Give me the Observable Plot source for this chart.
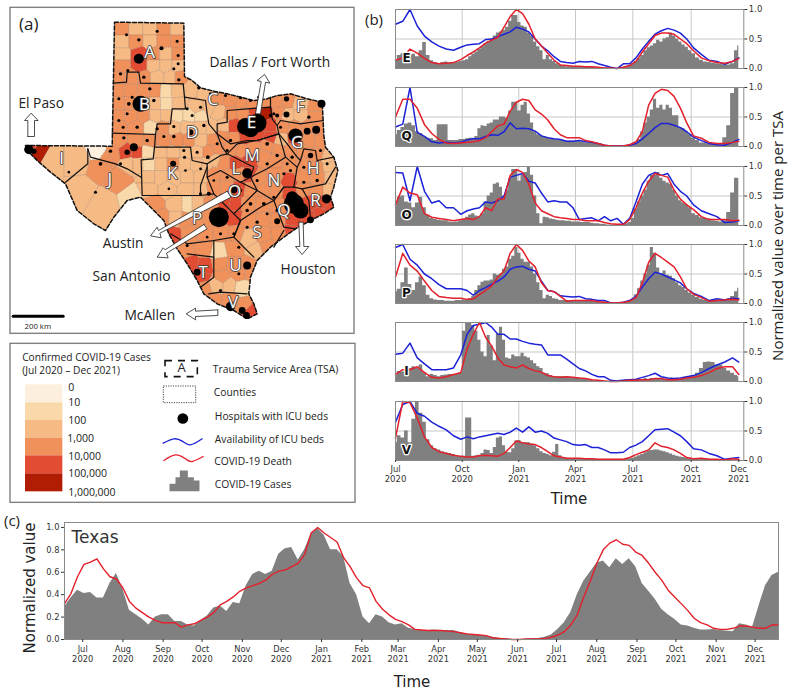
<!DOCTYPE html>
<html><head><meta charset="utf-8">
<script src="https://cdn.jsdelivr.net/npm/d3@7"></script>
<script src="https://cdn.jsdelivr.net/npm/@observablehq/plot@0.6"></script>
<style>
html,body{margin:0;padding:0;background:#fff}
#page{position:relative;width:790px;height:690px;overflow:hidden}
#page svg{position:absolute;background:transparent;overflow:visible}
.t{position:absolute;white-space:nowrap;color:#222;transform:translate(-50%,-50%)}
.r{transform:translate(-50%,-50%) rotate(-90deg)}
.os{font-family:"Open Sans"}
.dj{font-family:"DejaVu Sans"}
</style></head><body><div id="page"></div>
<script>
// ---------- colour classes of the choropleth ----------
const classLabels=["0","10","100","1,000","10,000","100,000","1,000,000"];
const classColors=["#fcefdd","#f9d9a9","#f6ba85","#f0905b","#e24c33","#b01d03"];
// ---------- map (map grid units: 150 units = 200 km) ----------
const texasOutline=[[342,65],[550,68],[552,228],[575,240],[600,262],[640,272],[680,280],[720,290],[760,300],[800,295],[830,285],[870,280],[920,295],[965,305],[968,360],[970,405],[975,440],[1000,470],[1012,510],[1000,560],[990,590],[1000,620],[970,640],[930,660],[885,685],[850,710],[810,740],[770,780],[750,830],[745,880],[760,910],[770,940],[740,955],[700,930],[650,910],[610,880],[590,840],[560,790],[530,745],[505,700],[490,660],[460,630],[420,590],[380,600],[340,650],[315,690],[280,670],[230,630],[195,550],[150,515],[110,480],[85,455],[75,435],[330,437],[335,437],[342,65]];
// county cell centres: [east, south, colour class]
const countyCells=[
[364,85,3],[406,85,2],[448,85,2],[490,85,3],[530,85,2],
[364,122,2],[406,122,3],[448,122,2],[490,122,3],[530,122,3],
[364,162,2],[418,162,4],[460,162,3],[495,162,2],[532,162,3],
[364,195,3],[418,195,4],[460,195,2],[495,195,2],[532,195,2],
[352,230,3],[392,230,3],[430,230,3],[470,230,2],[510,230,2],[538,230,3],
[352,270,3],[392,270,3],[430,270,3],[465,270,3],[495,272,1],[530,272,2],
[352,310,3],[392,310,3],[430,310,3],[465,310,2],[495,310,1],[535,310,2],
[352,345,3],[392,345,3],[430,345,3],[465,345,2],[495,345,2],[530,345,1],[565,345,1],[600,345,1],
[352,380,3],[410,380,3],[450,380,1],[490,380,3],[520,380,2],[560,380,2],[600,380,2],[635,380,2],
[352,420,3],[410,420,3],[450,420,3],[490,420,3],[530,420,3],[565,420,3],[600,420,2],[640,420,3],
[295,452,0],[335,460,3],[378,455,4],[408,455,4],[442,455,1],[480,455,2],[520,455,2],[555,455,2],[590,455,2],[625,455,3],
[385,490,2],[410,490,2],[445,490,1],[480,490,2],[520,490,3],[550,490,2],[590,490,2],[620,490,2],
[445,530,2],[480,530,2],[520,530,2],[560,530,2],[600,530,2],
[445,565,2],[500,565,2],[560,565,2],[600,565,2],
[460,610,3],[530,610,2],[560,610,1],[480,655,3],[530,655,2],
[112,458,5],[88,440,4],[150,480,2],[232,480,2],
[240,570,2],[310,610,2],[395,590,1],[300,500,3],[355,535,3],[320,470,3],
[575,265,2],[610,275,2],[650,295,3],[690,300,3],[725,305,3],[755,310,3],[790,305,3],[830,305,3],[860,300,3],[900,310,2],[945,320,3],
[590,320,2],[625,320,2],[655,335,2],[690,340,3],[730,340,3],[762,335,4],[798,338,5],[835,335,3],[860,345,2],[900,345,2],[945,345,3],
[670,375,2],[700,375,4],[735,375,4],[775,370,4],[810,375,4],[845,375,3],[885,380,3],[920,380,3],[955,385,3],
[665,410,3],[700,415,3],[735,410,4],[770,405,4],[810,410,4],[840,420,2],[885,415,4],[925,420,3],[960,420,3],
[650,440,3],[690,445,3],[725,450,3],[760,440,3],[800,435,3],[835,445,3],[870,450,3],[910,450,3],[945,465,3],[985,475,2],
[640,480,2],[670,490,3],[705,490,4],[745,480,4],[790,470,3],[825,480,3],[870,490,3],[905,490,3],[945,500,3],[990,495,2],
[640,520,3],[680,525,3],[715,520,3],[745,520,4],[775,535,3],[825,525,3],[865,545,4],[910,530,3],[950,530,3],[995,530,2],
[640,560,3],[680,560,3],[715,565,4],[750,570,3],[790,565,3],[830,570,3],[865,575,4],[910,565,3],[950,570,3],[985,570,2],
[590,610,2],[630,610,3],[675,605,4],[700,610,4],[745,610,3],[785,615,3],[830,615,3],[880,610,4],[925,610,4],[965,605,4],[990,625,4],
[550,660,3],[590,655,3],[625,650,3],[655,650,4],[700,650,4],[745,655,3],[790,655,3],[830,660,3],[880,660,4],[925,650,4],[960,640,4],
[520,705,4],[565,700,3],[615,700,3],[660,695,3],[705,700,3],[745,715,2],[790,705,3],[835,700,3],[875,690,4],
[555,750,3],[610,745,3],[655,755,1],[700,745,3],[765,750,2],[800,740,3],
[570,790,4],[610,800,4],[660,790,3],[700,795,3],[745,795,3],
[600,825,4],[665,830,3],[715,820,3],[750,815,3],
[610,865,3],[650,855,2],[685,855,2],[725,862,1],
[640,900,3],[690,900,3],[735,915,3],[750,930,4]
];
// TSA borders
const tsaBorders=[
[[338,248],[378,245],[380,215],[415,215],[420,248],[548,250]],
[[548,250],[552,290],[555,325],[515,325],[510,370],[470,370],[465,402],[335,398]],
[[465,402],[462,440],[458,475],[422,478],[425,585],[600,585],[600,555],[620,500]],
[[262,445],[262,490],[195,545]],
[[262,445],[270,470],[345,490],[380,505],[422,530]],
[[462,440],[570,440],[575,480],[620,490],[660,465],[680,460]],
[[552,290],[615,300],[620,340],[625,370],[650,400],[665,440],[680,460]],
[[680,330],[740,325],[810,320],[815,355],[830,375],[835,400],[770,420],[740,420],[690,430],[650,400],[650,370],[680,365],[680,330]],
[[810,290],[810,320]],[[830,375],[840,360],[900,370],[968,360]],
[[835,400],[860,430],[890,470],[900,480],[910,445],[945,450],[950,480],[1000,470]],
[[900,480],[890,500],[880,560],[905,565],[975,550],[1005,500]],
[[680,460],[710,430],[770,420],[835,400],[855,470],[890,500]],
[[620,490],[620,530],[660,510],[720,545],[750,530],[760,500],[680,460]],
[[750,530],[800,505],[855,470]],[[880,560],[850,560],[820,600],[770,570],[750,530]],
[[720,545],[770,570],[740,600],[700,640],[660,600],[640,580],[620,530]],
[[600,585],[640,580]],[[700,640],[720,660],[700,710],[640,720],[560,730],[510,700]],
[[905,565],[925,600],[930,655]],[[850,560],[820,600],[850,680],[885,685]],
[[720,660],[780,620],[820,600]],[[850,690],[820,740]],[[720,660],[700,710],[760,770]],
[[560,760],[640,770],[640,830],[600,860]],[[640,720],[640,770]],[[625,880],[660,875],[740,880]]
];
// hospitals: [east, south, estimated ICU beds]
const hospitals=[
[415,175,174],[420,310,444],[735,378,500],[770,368,600],[750,385,500],[655,650,694],[880,610,694],[900,630,444],[875,590,250],[885,405,350],[85,447,150],[100,452,50],[963,310,110],[740,518,170],[700,568,80],[740,795,110],[690,918,150],[725,930,80],[738,945,80],[590,815,80],[978,595,150],[930,658,80],[920,392,80],[947,388,110],[400,440,110],[380,455,50],[518,490,62],[570,395,62],[830,662,62],[858,295,50],[858,342,62],[930,465,50],[830,345,28],
[378,103,16],[470,92,16],[415,118,20],[483,143,28],[530,122,16],[533,165,16],[533,190,16],[520,205,16],[360,220,20],[382,210,16],[430,230,20],[535,238,20],
[448,265,20],[355,295,16],[385,310,24],[395,290,16],[460,300,20],[380,340,16],[355,360,16],[368,380,16],[410,380,20],[470,385,20],[520,378,16],
[370,412,20],[440,420,20],[520,408,20],[490,408,16],[575,345,16],[610,375,20],[560,325,16],[600,320,16],[595,262,20],[630,280,20],[675,285,16],[720,292,16],[750,300,16],[622,470,24],
[550,450,16],[552,470,16],[505,565,12],[555,510,12],[600,505,12],[590,455,16],[300,490,24],[205,515,12],[285,575,16],[330,452,20],[360,490,16],
[650,430,16],[680,450,16],[690,420,20],[800,430,24],[830,465,20],[860,490,16],[910,500,16],[950,540,20],[910,545,16],[870,510,16],[850,520,16],[800,490,20],[770,540,16],[720,570,20],[750,610,24],[790,610,24],[800,640,16],[770,665,20],[740,680,16],[700,700,16],[660,700,16],[620,710,12],[560,735,16],[715,740,16],[715,820,16],[660,870,16],[740,630,20],[820,590,16],[830,630,20],[980,490,16],[960,450,16],[875,470,20],[810,345,20],[775,290,20],[840,380,16],[820,340,16],[925,350,20],[640,540,12],[680,530,16],[625,580,28],[640,600,16],[600,580,16]
];
const tsaLetters=[["A",447,155],["B",432,313],["C",637,296],["D",575,395],["E",753,366],["F",900,318],["G",890,425],["H",938,505],["I",183,473],["J",328,538],["K",515,518],["L",706,503],["M",755,465],["N",820,540],["O",702,572],["P",590,655],["Q",850,630],["R",945,600],["S",770,697],["T",608,815],["U",705,795],["V",698,905]];
const cityLabels=[["Dallas / Fort Worth",808,187],["El Paso",122,310],["Austin",368,728],["San Antonio",393,828],["Houston",923,808],["McAllen",448,945]];
const cityArrows=[
[[82,408],[102,408],[102,360],[113,360],[92,338],[72,360],[82,360]],
[[765,340],[780,340],[795,245],[808,248],[792,222],[770,240],[782,243]],
[[680,572],[692,590],[478,698],[482,712],[450,706],[470,680],[474,690]],
[[610,672],[620,685],[498,758],[503,772],[470,770],[488,742],[494,748]],
[[895,665],[908,665],[910,738],[925,738],[905,762],[885,738],[898,738]],
[[652,928],[652,945],[585,948],[585,958],[557,940],[585,923],[585,932]]
];
const scaleBar=[[38,947],[188,947]];
// ---------- legend ----------
const swatchEdges=[163,217,270,323,376,430,484];
const legendTicks=[170,217,270,323,377,430,485];
const legendItems=[["Trauma Service Area (TSA)",637,118],["Counties",640,187],["Hospitals with ICU beds",643,260],["Availability of ICU beds",643,328],["COVID-19 Death",641,395],["COVID-19 Cases",643,464]];
const legendBlue=[[488,338],[520,325],[545,332],[570,343],[605,325]];
const legendRed=[[490,390],[525,373],[555,385],[575,393],[608,378]];
const legendCases=[[507,482],[507,460],[525,460],[525,440],[538,440],[538,420],[562,420],[562,440],[580,440],[580,450],[597,450],[597,482]];

// ---------- panels (b): every 10 days for lines, every 5 days for cases; % of each series' peak ----------
const eBlue=[75,80,100,72,55,45,38,33,31,36, 40,41,42,49,50,54,58,62,70,67, 62,50,38,30,20,12,10,9,12,11, 12,8,5,2,0,8,8,18,33,46, 58,64,68,65,60,50,35,24,14,12, 7,12,18];
const eRed=[14,18,33,26,17,10,8,9,10,15, 22,28,35,43,48,53,70,88,100,93, 75,50,38,26,14,6,5,4,4,3, 3,2,1,1,0,2,5,12,28,42, 56,60,60,58,50,42,30,18,13,10, 9,12,17];
const eCases=[13,22,25,26,22,24,20,30,44,22, 13,10,8,10,11,9,9,10,12,13, 15,20,24,28,32,37,42,46,50,55, 60,62,65,70,80,90,90,78,72,70, 60,55,45,37,30,15,22,15,12,8, 6,4,3,3,3,3,3,2,2,2, 2,2,1,1,1,1,0,0,0,1, 2,3,5,8,12,17,22,30,35,38, 42,48,45,50,52,60,55,50,45,40, 36,30,25,18,14,11,10,9,8,7, 6,6,8,30,38];
const qBlue=[33,38,100,24,17,8,6,7,6,7, 11,13,13,17,20,19,25,40,30,31, 30,26,18,15,13,12,9,9,10,8, 7,5,2,1,1,1,2,5,13,22, 32,39,39,36,32,25,16,10,5,3, 2,7,12];
const qRed=[50,80,80,65,37,22,12,6,5,6, 7,8,10,15,25,35,38,60,75,80, 78,62,55,45,30,20,15,15,15,10, 8,5,2,1,1,1,3,8,25,70, 90,97,95,85,65,40,18,14,7,5, 5,7,9];
const qCases=[20,27,32,38,40,35,25,22,17,14, 13,10,37,37,37,10,10,10,12,12, 13,14,14,17,30,35,34,38,40,45, 45,50,50,48,60,75,75,60,70,75, 55,40,25,20,18,17,15,12,12,11, 10,10,9,9,9,8,8,7,6,6, 5,5,4,3,2,1,1,1,1,1, 1,2,3,4,6,12,25,40,50,62, 80,65,70,62,70,65,52,52,32,30, 25,20,14,10,6,6,4,4,3,3, 15,35,90,100,100];
const oBlue=[90,89,42,100,58,38,42,30,30,19, 25,28,30,40,38,42,50,82,85,88, 75,72,55,40,42,40,40,30,10,12, 13,8,15,8,12,2,12,40,70,85, 90,85,88,70,58,50,35,25,20,15, 5,6,8];
const oRed=[35,65,55,52,20,14,12,10,8,10, 12,10,15,30,25,45,45,85,95,90, 70,38,25,20,15,13,12,10,10,8, 8,8,5,3,2,2,10,30,55,75, 88,85,82,60,45,35,27,15,10,10, 10,8,9];
const oCases=[35,48,50,40,38,30,38,48,30,18, 12,10,9,8,8,6,5,6,8,10, 14,18,20,16,15,20,40,50,55,70, 72,65,50,60,80,95,95,75,85,90, 100,85,50,20,3,14,13,11,10,9, 8,8,7,7,6,6,6,5,5,5, 4,3,3,2,2,1,1,1,1,2, 2,3,5,12,28,40,50,60,75,85, 85,90,80,75,72,70,60,50,42,38, 35,30,20,17,13,12,11,8,7,6, 8,22,55,80,80];
const pBlue=[95,100,75,65,50,42,32,25,25,25, 22,14,22,27,33,38,45,58,62,63, 58,55,38,22,20,13,12,11,12,8, 7,5,5,1,1,2,5,12,28,42, 53,50,45,40,35,25,17,12,5,8, 6,9,8];
const pRed=[45,85,65,55,38,22,12,10,9,9, 7,8,15,22,30,45,55,85,100,90, 72,62,35,22,20,12,4,5,5,5, 5,3,2,1,1,2,4,10,35,70, 85,78,70,62,45,25,16,10,4,5, 6,7,6];
const pCases=[20,24,35,60,32,22,35,45,30,14, 8,6,5,5,4,4,4,5,5,6, 6,8,12,22,30,36,38,38,40,50, 48,50,58,62,75,80,95,85,75,70, 70,62,50,35,22,8,14,12,8,7, 5,5,5,5,5,5,5,5,5,5, 4,3,2,2,2,1,1,0,1,1, 1,2,4,7,15,25,38,50,65,95, 85,60,50,55,48,46,42,35,30,27, 22,18,14,10,7,5,4,5,5,5, 6,8,12,20,26];
const iBlue=[46,48,65,40,30,20,20,20,23,45, 80,95,97,100,92,80,80,72,72,68, 65,63,62,45,45,45,38,30,22,18, 12,8,8,2,1,2,3,4,7,10, 14,8,6,5,6,8,10,15,22,28, 33,40,33];
const iRed=[12,20,20,25,15,7,6,8,12,15, 55,80,100,75,60,40,28,25,23,28, 22,18,16,10,8,7,8,7,6,5, 3,2,1,0,0,1,2,2,3,3, 5,5,3,3,4,6,7,10,15,22, 25,25,12];
const iCases=[10,17,16,20,22,25,22,28,15,8, 12,10,8,10,11,12,12,12,15,85, 100,100,95,85,70,50,42,78,60,35, 80,92,70,40,38,45,42,42,48,42, 40,35,30,25,22,14,13,10,8,8, 8,8,7,7,6,5,5,4,4,3, 2,1,1,1,0,0,0,1,1,2, 2,3,3,3,3,4,3,5,4,5, 5,5,4,3,4,3,3,4,4,6, 7,8,10,14,22,32,33,32,28,28, 22,18,14,10,8];
const vBlue=[65,95,100,80,75,65,58,52,42,36, 40,37,40,42,44,46,44,48,55,48, 57,48,50,46,38,35,32,27,26,27, 22,22,18,13,13,14,22,26,32,42, 52,53,54,48,42,32,20,18,12,8, 2,4,5];
const vRed=[38,100,98,72,40,22,15,12,9,7, 6,6,8,9,8,7,12,22,33,30, 28,27,22,15,8,6,4,4,4,3, 3,2,2,2,2,2,5,10,14,18, 30,24,22,18,12,5,3,4,2,2, 1,3,2];
const vCases=[30,42,38,50,30,70,100,80,65,35, 25,20,18,15,13,12,10,8,7,7, 72,72,7,8,9,12,18,17,12,22, 38,40,25,14,13,20,33,34,30,30, 30,28,25,20,15,12,10,8,14,27, 8,5,4,3,3,3,3,3,2,2, 2,2,2,1,1,1,1,1,1,1, 1,2,3,4,6,8,10,13,16,17, 18,18,16,15,13,11,9,7,6,5, 4,3,3,2,2,2,2,1,1,1, 1,1,1,1,1];
const panelNames=["E","Q","O","P","I","V"];
const panelBlue=[eBlue,qBlue,oBlue,pBlue,iBlue,vBlue];
const panelRed=[eRed,qRed,oRed,pRed,iRed,vRed];
const panelCases=[eCases,qCases,oCases,pCases,iCases,vCases];
const panelTickLabels=["Jul\n2020","Oct\n2020","Jan\n2021","Apr\n2021","Jul\n2021","Oct\n2021","Dec\n2021"];
const panelTickDates=["2020-07-01","2020-10-01","2021-01-01","2021-04-01","2021-07-01","2021-10-01","2021-12-01"];

// ---------- panel (c): every 5 days from 17 Jun 2020, normalised ----------
const texasCases=[.29,.37,.44,.41,.42,.37,.37,.50,.59,.45,.26,.22,.18,.13,.20,.22,.22,.16,.16,.13,.12,.17,.21,.28,.30,.25,.33,.32,.48,.58,.61,.58,.61,.76,.81,.82,.71,.80,.94,.99,.93,.80,.80,.74,.50,.40,.20,.14,.22,.20,.15,.13,.14,.10,.09,.08,.08,.085,.08,.08,.08,.06,.05,.04,.035,.03,.02,.01,.01,0,0,0,.01,.01,.02,.04,.09,.15,.24,.40,.52,.60,.68,.70,.64,.72,.67,.72,.65,.50,.43,.36,.27,.22,.18,.13,.12,.10,.085,.085,.09,.08,.075,.07,.14,.13,.11,.30,.48,.57,.60];
const texasDeath=[.32,.41,.56,.67,.69,.72,.63,.56,.54,.46,.34,.28,.24,.20,.17,.15,.15,.15,.11,.13,.14,.17,.20,.24,.31,.34,.38,.43,.46,.48,.50,.53,.58,.61,.62,.65,.68,.76,.95,1,.95,.91,.87,.73,.65,.55,.48,.46,.34,.27,.22,.18,.16,.13,.09,.085,.08,.08,.08,.075,.07,.06,.05,.045,.04,.035,.015,.01,.005,0,0,.005,.005,.005,.01,.02,.04,.07,.13,.22,.38,.52,.68,.80,.86,.89,.85,.84,.78,.75,.68,.60,.53,.44,.38,.32,.26,.19,.15,.13,.10,.09,.09,.10,.12,.12,.11,.10,.10,.13,.13];
const monthNames=["Jul","Aug","Sep","Oct","Nov","Dec","Jan","Feb","Mar","Apr","May","Jun","Jul","Aug","Sep","Oct","Nov","Dec"];

// ---------- drawing ----------
const page=document.getElementById("page");
const DEJAVU='"DejaVu Sans"', OPEN='"Open Sans"';
const place=(svg,l,t)=>{svg.style.left=l+"px";svg.style.top=t+"px";page.appendChild(svg);return svg};
const label=(s,x,y,size,cls,extra="")=>{const d=document.createElement("div");d.className="t "+cls+(extra?" "+extra:"");d.textContent=s;d.style.left=x+"px";d.style.top=y+"px";d.style.fontSize=size+"px";page.appendChild(d)};
const px=d=>d[0], py=d=>d[1];
const legendY=y=>y+990;
const ly=p=>[p[0],legendY(p[1])];
const swatches=classColors.map((c,i)=>({level:i,y1:legendY(swatchEdges[i]),y2:legendY(swatchEdges[i+1])}));

const mapSvg=Plot.plot({width:370,height:510,margin:0,
  x:{domain:[0,1110],range:[0,370],axis:null},
  y:{domain:[0,1530],range:[0,510],axis:null},
  color:{type:"ordinal",domain:[0,1,2,3,4,5],range:classColors},
  r:{type:"sqrt",domain:[0,1000],range:[0,12]},
  style:{background:"transparent"},
  marks:[
    Plot.rect([[30,22,1062,1000],[30,1030,1065,1507]],{x1:d=>d[0],y1:d=>d[1],x2:d=>d[2],y2:d=>d[3],fill:"white",stroke:"#808080",strokeWidth:1.4}),
    Plot.voronoi(countyCells,{x:px,y:py,z:()=>0,fill:d=>d[2],stroke:"#8a7060",strokeWidth:.45,strokeDasharray:"1,1"}),
    Plot.line(texasOutline,{x:px,y:py,stroke:"#111",strokeWidth:1.5,strokeDasharray:"4,2"}),
    ...tsaBorders.map(b=>Plot.line(b,{x:px,y:py,stroke:"#111",strokeWidth:1.2})),
    Plot.dot(hospitals,{x:px,y:py,r:d=>d[2],fill:"black"}),
    ...cityArrows.map(a=>Plot.line([...a,a[0]],{x:px,y:py,fill:"white",stroke:"#222",strokeWidth:.8})),
    Plot.text(tsaLetters,{x:d=>d[1],y:d=>d[2],text:d=>d[0],fill:"white",stroke:"#3a3a3a",strokeWidth:1.6,fontSize:17,fontFamily:OPEN}),
    Plot.text(cityLabels,{x:d=>d[1],y:d=>d[2],text:d=>d[0],fill:"#222",fontSize:13.8,fontFamily:OPEN}),
    Plot.text(["(a)"],{x:[85],y:[72],fill:"#222",fontSize:17,fontFamily:OPEN}),
    Plot.line(scaleBar,{x:px,y:py,stroke:"black",strokeWidth:3}),
    Plot.text(["200 km"],{x:[112],y:[977],fontSize:7.8,fill:"#222",fontFamily:OPEN}),
    // legend
    Plot.rect(swatches,{x1:75,x2:187,y1:"y1",y2:"y2",fill:"level"}),
    Plot.text(classLabels,{x:[203,203,203,200,203,203,203],y:legendTicks.map(legendY),textAnchor:"start",fontSize:10.5,fill:"#222",fontFamily:OPEN}),
    Plot.text(["Confirmed COVID-19 Cases","(Jul 2020 – Dec 2021)"],{x:65,y:[82,120].map(legendY),textAnchor:"start",fontSize:10.2,fill:"#222",fontFamily:OPEN}),
    Plot.text(legendItems,{x:d=>d[1],y:d=>legendY(d[2]),text:d=>d[0],textAnchor:"start",fontSize:10.3,fill:"#222",fontFamily:OPEN}),
    Plot.rect([0],{x1:495,x2:592,y1:legendY(92),y2:legendY(140),fill:"none",stroke:"#111",strokeWidth:1.6,strokeDasharray:"7,6"}),
    Plot.text(["A"],{x:[543],y:[legendY(113)],fontSize:13,fill:"#222",fontFamily:OPEN}),
    Plot.rect([0],{x1:490,x2:587,y1:legendY(168),y2:legendY(218),fill:"none",stroke:"#333",strokeWidth:.9,strokeDasharray:"1.2,1.2"}),
    Plot.dot([200],{x:[547],y:[legendY(264)],r:d=>d,fill:"black"}),
    Plot.line(legendBlue.map(ly),{x:px,y:py,curve:"natural",stroke:"#1c22d6",strokeWidth:1.3}),
    Plot.line(legendRed.map(ly),{x:px,y:py,curve:"natural",stroke:"#e3202b",strokeWidth:1.3}),
    Plot.line(legendCases.map(ly),{x:px,y:py,fill:"#808080",stroke:"none"})
  ]
});
place(mapSvg,0,0);
// clip the county tessellation to the state outline (first line mark)
(function(){
  const out=mapSvg.querySelector('g[aria-label="line"] path');
  const vor=mapSvg.querySelector('g[aria-label="voronoi"]');
  if(out&&vor){
    const NS="http://www.w3.org/2000/svg";
    const cp=document.createElementNS(NS,"clipPath");cp.setAttribute("id","txclip");
    const p=document.createElementNS(NS,"path");p.setAttribute("d",out.getAttribute("d"));cp.appendChild(p);
    mapSvg.appendChild(cp);vor.setAttribute("clip-path","url(#txclip)");
  }
})();

const tickDates=panelTickDates.map(d=>new Date(d+"T00:00Z"));
const lineDates=eBlue.map((_,i)=>d3.utcDay.offset(tickDates[0],Math.min(i*10,518)));
const caseDates=eCases.map((_,i)=>d3.utcDay.offset(tickDates[0],Math.min(i*5,518)));
const panelTops=[9,87,166,244,322,401];
// tick spacing as drawn in the reference (left = 395, right = 738)
const tickPos=[5,71.7,128.3,185,242.3,300.7,348.3];
panelNames.forEach((name,i)=>{
  const last=i===panelNames.length-1;
  const h=59;
  const svg=Plot.plot({width:400,height:h+(last?30:1),marginTop:0,marginBottom:last?30:1,marginLeft:5,marginRight:46.7,
    style:{background:"transparent"},
    x:{type:"utc",domain:tickDates,range:tickPos,axis:null},
    y:{domain:[0,1],axis:null},
    marks:[
      Plot.ruleX(tickDates.slice(1,6),{stroke:"#c8c8c8",strokeWidth:1}),
      Plot.ruleY([.5],{stroke:"#c8c8c8",strokeWidth:1}),
      Plot.areaY(panelCases[i].map((v,k)=>({t:caseDates[k],v:v/100})),{x:"t",y:"v",curve:"step",fill:"#808080"}),
      Plot.line(panelBlue[i].map((v,k)=>({t:lineDates[k],v:v/100})),{x:"t",y:"v",stroke:"#1c22d6",strokeWidth:1.5}),
      Plot.line(panelRed[i].map((v,k)=>({t:lineDates[k],v:v/100})),{x:"t",y:"v",stroke:"#e3202b",strokeWidth:1.5}),
      Plot.frame({stroke:"#8a8a8a",strokeWidth:1}),
      Plot.axisY({anchor:"right",ticks:[0,.5,1],tickFormat:d3.format(".1f"),tickSize:3,tickPadding:2,label:null,fontSize:8.5,fontFamily:DEJAVU,color:"#333"}),
      last?Plot.axisX({anchor:"bottom",ticks:tickDates,tickFormat:(d,j)=>panelTickLabels[j],tickSize:2,tickPadding:3,label:null,fontSize:8.5,lineHeight:1.15,fontFamily:DEJAVU,color:"#333"}):null,
      Plot.text([name],{frameAnchor:"bottom-left",dx:11,dy:-10,textAnchor:"middle",lineAnchor:"middle",fill:"#111",stroke:"white",strokeWidth:2.5,fontWeight:"bold",fontSize:12,fontFamily:DEJAVU})
    ]});
  place(svg,390,panelTops[i]);
});

const tx0=new Date("2020-06-17T00:00Z");
const txRows=texasCases.map((v,k)=>({t:d3.utcDay.offset(tx0,k*5),c:v,d:texasDeath[k]}));
const monthTicks=d3.utcMonth.range(new Date("2020-07-01T00:00Z"),new Date("2021-12-02T00:00Z"));
const cSvg=Plot.plot({width:790,height:160,marginTop:12,marginBottom:31,marginLeft:64,marginRight:12,
  style:{background:"transparent"},
  x:{type:"utc",domain:[tx0,new Date("2021-12-19T00:00Z")],axis:null},
  y:{domain:[0,1.044],axis:null},
  marks:[
    Plot.areaY(txRows,{x:"t",y:"c",fill:"#808080"}),
    Plot.line(txRows,{x:"t",y:"d",stroke:"#e3202b",strokeWidth:1.4}),
    Plot.frame({stroke:"#8a8a8a",strokeWidth:1}),
    Plot.axisY({ticks:[0,.2,.4,.6,.8,1],tickFormat:d3.format(".1f"),tickSize:3,tickPadding:2,label:null,fontSize:8.3,fontFamily:DEJAVU,color:"#333"}),
    Plot.axisX({ticks:monthTicks,tickFormat:(d,j)=>monthNames[j]+"\n"+d.getUTCFullYear(),tickSize:3,tickPadding:3,label:null,fontSize:8.3,lineHeight:1.15,fontFamily:DEJAVU,color:"#333"}),
    Plot.text(["Texas"],{frameAnchor:"top-left",dx:7,dy:15,lineAnchor:"middle",fontSize:17,fill:"#333",fontFamily:DEJAVU})
  ]});
place(cSvg,0,510);

label("(b)",374,19,15,"os");
label("(c)",12,520,15,"os");
label("Normalized value over time per TSA",777,236,15,"os","r");
label("Normalized value",30,588,15,"dj","r");
label("Time",569,499,15,"dj");
label("Time",412,682,15,"dj");
</script></body></html>
